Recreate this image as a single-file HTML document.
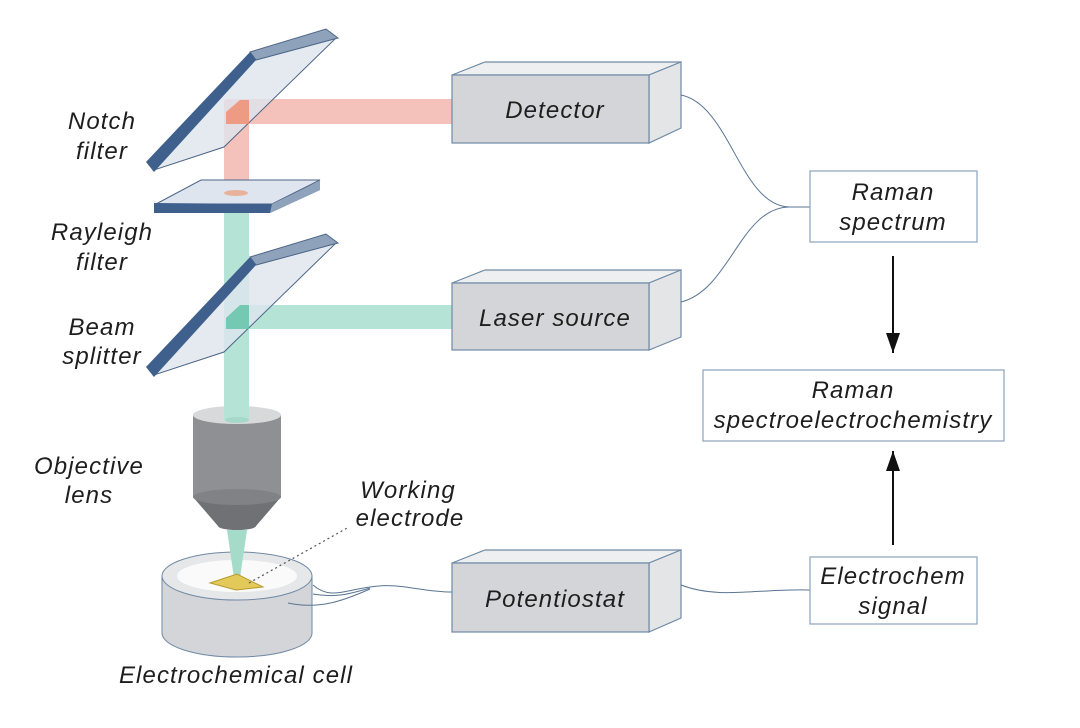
<!DOCTYPE html>
<html><head><meta charset="utf-8"><style>
html,body{margin:0;padding:0;background:#fff;}
svg{display:block;}
text{font-family:"Liberation Sans",sans-serif;font-style:italic;font-size:24px;letter-spacing:1.1px;fill:#1e1e1e;text-anchor:middle;}
</style></head><body>
<svg width="1080" height="728" viewBox="0 0 1080 728" xmlns="http://www.w3.org/2000/svg">
<defs>
<marker id="ah" markerWidth="20" markerHeight="14" refX="20" refY="7" orient="auto" markerUnits="userSpaceOnUse" viewBox="0 0 20 14">
<path d="M0,0 L20,7 L0,14 z" fill="#111"/></marker>
</defs>

<rect x="224" y="188" width="25" height="235" fill="#b5e3d6"/>
<rect x="224" y="100" width="25" height="95" fill="#f4c2bb"/>
<rect x="226" y="99" width="228" height="25" fill="#f4c2bb"/>
<rect x="226" y="305" width="228" height="24" fill="#b5e3d6"/>

<polygon points="154,170 254,56 336,38 224,147" fill="#dfe5ee" fill-opacity="0.8" stroke="#4d6585" stroke-width="1"/>
<polygon points="250,52 326,29 338,38 256,60" fill="#8ea2bc" stroke="#4d6585" stroke-width="1"/>
<polygon points="146,162 250,52 256,60 154,172" fill="#3f5f8c"/>
<polygon points="226,112 240,100 249,100 249,124 226,124" fill="#f08a6c" opacity="0.8"/>

<polygon points="156,204 201,180 320,180 272,204" fill="#dfe5ee" stroke="#4d6585" stroke-width="1"/>
<polygon points="154,203 272,204 320,181 320,190 270,213 154,213" fill="#3f5f8c"/>
<polygon points="272,204 320,181 320,190 270,213" fill="#8ea2bc"/>
<ellipse cx="236" cy="193" rx="12" ry="3" fill="#e8b29a"/>

<polygon points="154,375 254,261 336,243 224,352" fill="#dfe5ee" fill-opacity="0.8" stroke="#4d6585" stroke-width="1"/>
<polygon points="250,257 326,234 338,243 256,265" fill="#8ea2bc" stroke="#4d6585" stroke-width="1"/>
<polygon points="146,367 250,257 256,265 154,377" fill="#3f5f8c"/>
<polygon points="226,318 240,305 249,305 249,329 226,329" fill="#5cc0a2" opacity="0.8"/>

<rect x="193" y="415" width="88" height="82" fill="#8e9093"/>
<polygon points="193,497 281,497 256,526 218,526" fill="#6f7174"/>
<ellipse cx="237" cy="526" rx="19" ry="4" fill="#6f7174"/>
<ellipse cx="237" cy="497" rx="44" ry="8" fill="#808285"/>
<ellipse cx="237" cy="415" rx="44" ry="9" fill="#d8d9db"/>
<rect x="224" y="400" width="25" height="20" fill="#b5e3d6"/>
<ellipse cx="237" cy="420" rx="12" ry="3" fill="#a5d8c8"/>

<path d="M162,576 L162,633 A75,24 0 0 0 312,633 L312,576 Z" fill="#d3d5d8" stroke="#6f8aa6" stroke-width="1"/>
<ellipse cx="237" cy="576" rx="75" ry="24" fill="#e6e7e9" stroke="#6f8aa6" stroke-width="1"/>
<ellipse cx="237" cy="576" rx="60" ry="16" fill="#fafafa"/>
<polygon points="227,530 247,530 240,578 234,578" fill="#a5dcc9"/>
<polygon points="210,583 237,574 263,587 236,590" fill="#e3c95a" stroke="#b49a2a" stroke-width="1"/>
<line x1="249" y1="583" x2="349" y2="527" stroke="#555" stroke-width="1.2" stroke-dasharray="2,3"/>

<path d="M313,585 C330,600 345,590 370,587 C400,582 420,592 452,592" fill="none" stroke="#5a7592" stroke-width="1"/>
<path d="M313,594 C335,598 350,594 370,588" fill="none" stroke="#5a7592" stroke-width="1"/>
<path d="M288,603 C320,610 345,600 370,589" fill="none" stroke="#5a7592" stroke-width="1"/>

<g stroke="#6f8aa6" stroke-width="1.2">
<polygon points="452,75 485,62 681,62 649,75" fill="#eeeff1"/>
<polygon points="649,75 681,62 681,128 649,143" fill="#e4e5e7"/>
<rect x="452" y="75" width="197" height="68" fill="#d4d5d8"/>
<polygon points="452,283 485,270 681,270 649,283" fill="#eeeff1"/>
<polygon points="649,283 681,270 681,337 649,350" fill="#e4e5e7"/>
<rect x="452" y="283" width="197" height="67" fill="#d4d5d8"/>
<polygon points="452,563 485,550 681,550 649,563" fill="#eeeff1"/>
<polygon points="649,563 681,550 681,618 649,632" fill="#e4e5e7"/>
<rect x="452" y="563" width="197" height="69" fill="#d4d5d8"/>
</g>
<text x="555" y="118">Detector</text>
<text x="555" y="326">Laser source</text>
<text x="555" y="607">Potentiostat</text>

<path d="M681,95 C730,105 740,205 789,207 L810,207" fill="none" stroke="#5a7592" stroke-width="1"/>
<path d="M681,302 C730,290 740,208 789,207" fill="none" stroke="#5a7592" stroke-width="1"/>
<path d="M681,585 C720,600 760,588 810,590" fill="none" stroke="#5a7592" stroke-width="1"/>

<g fill="#fff" stroke="#8aa2bb" stroke-width="1.2">
<rect x="810" y="171" width="167" height="71"/>
<rect x="703" y="370" width="301" height="71"/>
<rect x="810" y="557" width="167" height="67"/>
</g>
<text x="893" y="200">Raman</text>
<text x="893" y="230">spectrum</text>
<text x="853" y="398">Raman</text>
<text x="853" y="428">spectroelectrochemistry</text>
<text x="893" y="584">Electrochem</text>
<text x="893" y="614">signal</text>

<line x1="893" y1="256" x2="893" y2="353" stroke="#111" stroke-width="2" marker-end="url(#ah)"/>
<line x1="893" y1="545" x2="893" y2="451" stroke="#111" stroke-width="2" marker-end="url(#ah)"/>

<text x="102" y="129">Notch</text>
<text x="102" y="159">filter</text>
<text x="102" y="240">Rayleigh</text>
<text x="102" y="270">filter</text>
<text x="102" y="335">Beam</text>
<text x="102" y="364">splitter</text>
<text x="89" y="474">Objective</text>
<text x="89" y="503">lens</text>
<text x="408" y="498">Working</text>
<text x="410" y="526">electrode</text>
<text x="236" y="683">Electrochemical cell</text>
</svg>
</body></html>
